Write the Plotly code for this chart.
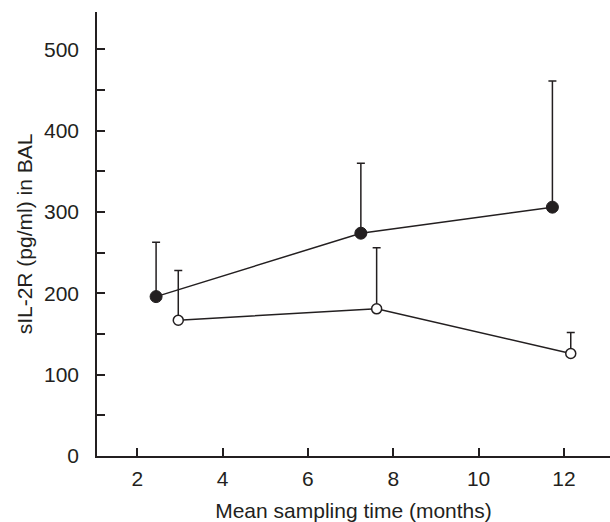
import plotly.graph_objects as go

# Data
filled_x = [2.44, 7.24, 11.73]
filled_y = [196, 274, 306]
filled_upper = [263, 360, 461]

open_x = [2.96, 7.61, 12.16]
open_y = [167, 181, 126]
open_upper = [228, 256, 152]

x_ticks = [2, 4, 6, 8, 10, 12]
y_ticks = [0, 100, 200, 300, 400, 500]

ink = "#231f20"

filled_err = [u - v for u, v in zip(filled_upper, filled_y)]
open_err = [u - v for u, v in zip(open_upper, open_y)]

fig = go.Figure()
fig.add_trace(go.Scatter(
    x=filled_x, y=filled_y, mode="lines+markers",
    line=dict(color=ink, width=1.5),
    marker=dict(size=12, color=ink, line=dict(color=ink, width=1)),
    error_y=dict(type="data", array=filled_err, arrayminus=[0] * 3,
                 symmetric=False, color=ink, thickness=1.5, width=4),
    showlegend=False,
))
fig.add_trace(go.Scatter(
    x=open_x, y=open_y, mode="lines+markers",
    line=dict(color=ink, width=1.5),
    marker=dict(size=10, color="white", line=dict(color=ink, width=1.5)),
    error_y=dict(type="data", array=open_err, arrayminus=[0] * 3,
                 symmetric=False, color=ink, thickness=1.5, width=4),
    showlegend=False,
))

fnt = dict(family="Liberation Sans, Arial, sans-serif", size=21, color=ink)

fig.update_layout(
    width=610, height=522,
    margin=dict(l=97, r=0, t=12, b=66),
    paper_bgcolor="white", plot_bgcolor="white",
    font=fnt,
)
fig.update_xaxes(
    range=[1.055, 13.08], tickvals=x_ticks, ticktext=[str(v) for v in x_ticks],
    ticks="inside", ticklen=8, tickwidth=1.5, tickcolor=ink,
    showline=True, linecolor=ink, linewidth=1.5, showgrid=False, zeroline=False,
    tickfont=fnt, ticklabelstandoff=3,
    title=dict(text="Mean sampling time (months)", font=fnt, standoff=14),
)
fig.update_yaxes(
    range=[0, 546], tickvals=y_ticks, ticktext=[str(v) for v in y_ticks],
    ticks="inside", ticklen=8, tickwidth=1.5, tickcolor=ink,
    minor=dict(dtick=50, tick0=0, ticks="inside", ticklen=8, tickwidth=1.5, tickcolor=ink),
    showline=True, linecolor=ink, linewidth=1.5, showgrid=False, zeroline=False,
    tickfont=fnt, ticklabelstandoff=12,
    title=dict(text="sIL-2R (pg/ml) in BAL", font=fnt, standoff=6),
)

fig.write_html("out.html")
